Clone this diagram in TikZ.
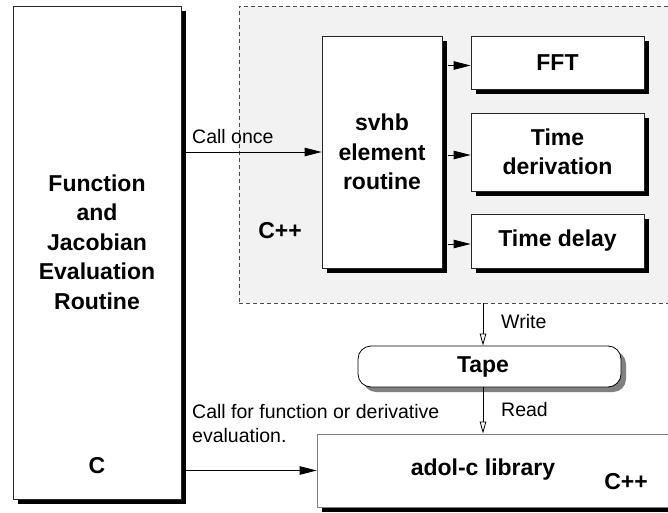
\documentclass[tikz,border=0pt]{standalone}
\usepackage{fontspec}
\setmainfont{Liberation Sans}
\usetikzlibrary{arrows.meta,shadows}
\newcommand\boldtext{\fontsize{23}{29.5}\selectfont\bfseries}
\newcommand\plaintext{\fontsize{19.5}{24.5}\selectfont}
\begin{document}
\begin{tikzpicture}[x=1pt,y=-1pt,
  box/.style={draw=black!85,line width=0.8pt,fill=white,inner sep=0pt,
    align=center,font=\boldtext},
  blackshadow/.style={drop shadow={shadow xshift=5pt,shadow yshift=-5pt,
    fill=black,opacity=1}},
  grayshadow/.style={drop shadow={shadow xshift=5pt,shadow yshift=-5pt,
    fill=black!50,opacity=1}},
  lbl/.style={font=\plaintext,inner sep=0pt,align=left},
  bold/.style={font=\boldtext,inner sep=0pt,align=center},
  bigarrow/.style={line width=0.8pt,-{Triangle[length=17pt,width=8.5pt]}},
  openarrow/.style={line width=0.8pt,-{Triangle[open,length=12pt,width=6.5pt,fill=white]}}]
\useasboundingbox (0,0) rectangle (668,513);
\clip (0,0) rectangle (668,513);

% C++ region (dashed, runs off the right edge)
\node[draw=black!70,dashed,dash pattern=on 4pt off 3pt,fill=black!5,
  line width=0.8pt,minimum width=451pt,minimum height=297pt,inner sep=0pt]
  (cxx) at (464.5,154.5) {};
\node[bold] (cxxlbl) at (280,231) {C++};

% main C routine
\node[box,blackshadow,minimum width=168pt,minimum height=493pt] (jac) at (97,252.5) {};
\node[bold] (jactext) at (97,242) {Function\\and\\Jacobian\\Evaluation\\Routine};
\node[bold] (clbl) at (97,466) {C};

% svhb element and its helpers
\node[box,blackshadow,minimum width=120pt,minimum height=232pt] (svhb) at (382,152) {svhb\\element\\routine};
\node[box,blackshadow,minimum width=173pt,minimum height=53pt] (fft) at (557.5,62.5) {FFT};
\node[box,blackshadow,minimum width=173pt,minimum height=78pt] (tder) at (557.5,152) {Time\\derivation};
\node[box,blackshadow,minimum width=173pt,minimum height=54pt] (tdel) at (557.5,241) {Time delay};

% tape
\node[draw=black,line width=0.8pt,fill=white,rounded corners=13pt,grayshadow,
  minimum width=263pt,minimum height=41pt,inner sep=0pt] (tape) at (489.5,366.5) {};
\node[bold] (tapetext) at (483,367) {Tape};

% adol-c library
\node[draw=black!50,line width=0.8pt,fill=white,blackshadow,
  minimum width=373pt,minimum height=73pt,inner sep=0pt] (adol) at (503.5,470.5) {};
\node[bold] (adoltext) at (483,470) {adol-c library};
\node[bold] (adolcxx) at (626,482) {C++};

\coordinate (axis) at (483,0);

% connectors
\draw[bigarrow] ([xshift=5pt]svhb.west -| jac.east) -- (svhb.west);
\node[lbl,anchor=west] (callonce) at (192,137) {Call once};

\draw[bigarrow] ([xshift=6pt,yshift=-3pt]svhb.east |- fft.west) -- ([yshift=-3pt]fft.west);
\draw[bigarrow] ([xshift=6pt,yshift=-3pt]svhb.east |- tder.west) -- ([yshift=-3pt]tder.west);
\draw[bigarrow] ([xshift=6pt,yshift=-3pt]svhb.east |- tdel.west) -- ([yshift=-3pt]tdel.west);

\draw[openarrow] (cxx.south -| axis) -- (tape.north -| axis);
\node[lbl,anchor=west] (write) at (501,322) {Write};
\draw[openarrow] (tape.south -| axis) -- (adol.north -| axis);
\node[lbl,anchor=west] (read) at (501,410) {Read};

\draw[bigarrow] ([xshift=5pt]adol.west -| jac.east) -- (adol.west);
\node[lbl,anchor=west] (callfor) at (192,423.5) {Call for function or derivative\\evaluation.};
\end{tikzpicture}
\end{document}
